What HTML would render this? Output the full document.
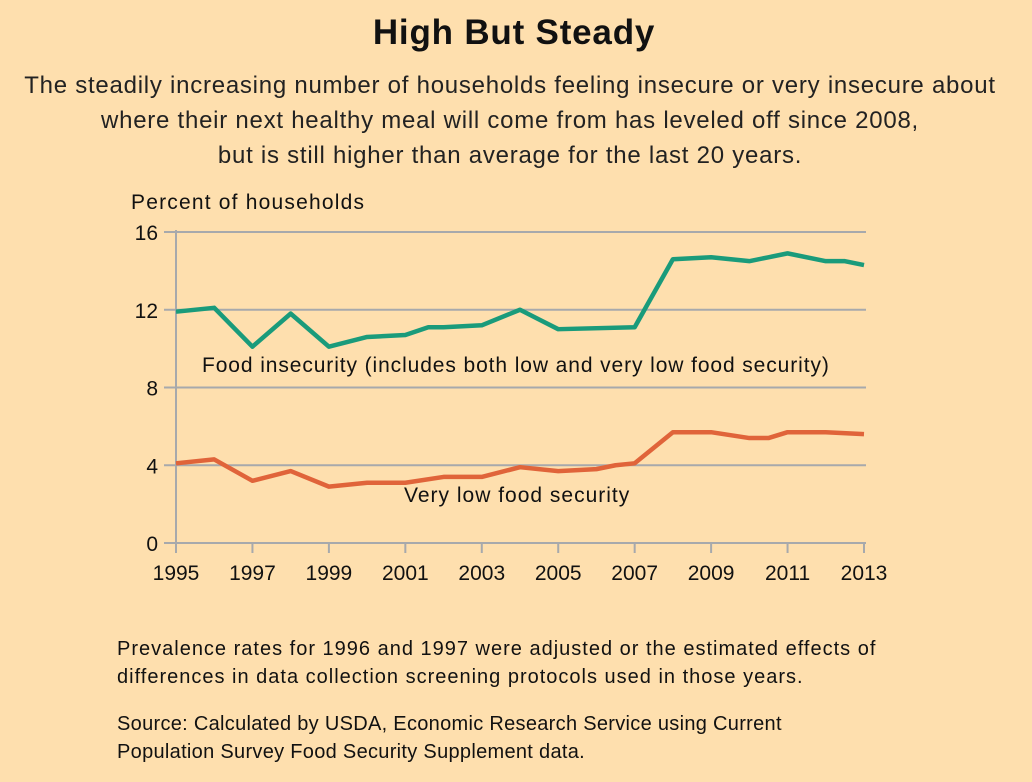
<!DOCTYPE html>
<html><head><meta charset="utf-8"><style>
html,body{margin:0;padding:0;background:#fedfae;}
body{width:1032px;height:782px;position:relative;overflow:hidden;font-family:"Liberation Sans",sans-serif;color:#111;}
.t{position:absolute;white-space:nowrap;}
</style></head><body>
<div class="t" style="left:0;width:1028px;text-align:center;top:13px;font-size:35px;font-weight:bold;letter-spacing:0.8px;">High But Steady</div>
<div class="t" style="left:0;width:1020px;text-align:center;top:68px;font-size:24px;line-height:35px;color:#222;letter-spacing:0.75px;">The steadily increasing number of households feeling insecure or very insecure about<br>where their next healthy meal will come from has leveled off since 2008,<br>but is still higher than average for the last 20 years.</div>
<svg id="chart" width="1032" height="782" style="position:absolute;left:0;top:0;"></svg>
<div class="t" style="left:117px;top:635px;font-size:20px;line-height:28px;letter-spacing:1px;">Prevalence rates for 1996 and 1997 were adjusted or the estimated effects of<br>differences in data collection screening protocols used in those years.</div>
<div class="t" style="left:117px;top:710px;font-size:20px;line-height:28px;letter-spacing:0.3px;">Source: Calculated by USDA, Economic Research Service using Current<br>Population Survey Food Security Supplement data.</div>
<script>
const yTicks=[0,4,8,12,16];
const xTicks=[1995,1997,1999,2001,2003,2005,2007,2009,2011,2013];
const insecYears=[1995,1996,1997,1998,1999,2000,2001,2001.6,2002,2003,2004,2004.5,2005,2007,2008,2009,2010,2010.5,2011,2012,2012.5,2013];
const insecVals=[11.9,12.1,10.1,11.8,10.1,10.6,10.7,11.1,11.1,11.2,12.0,11.5,11.0,11.1,14.6,14.7,14.5,14.7,14.9,14.5,14.5,14.3];
const vlowYears=[1995,1996,1997,1998,1999,2000,2001,2002,2003,2004,2005,2006,2006.5,2007,2008,2009,2010,2010.5,2011,2012,2013];
const vlowVals=[4.1,4.3,3.2,3.7,2.9,3.1,3.1,3.4,3.4,3.9,3.7,3.8,4.0,4.1,5.7,5.7,5.4,5.4,5.7,5.7,5.6];
const svg=document.getElementById('chart');const NS='http://www.w3.org/2000/svg';
const X=y=>176+(y-1995)*(864-176)/18;
const Y=v=>543-v*(543-232)/16;
function mk(t,a){const e=document.createElementNS(NS,t);for(const k in a)e.setAttribute(k,a[k]);svg.appendChild(e);return e;}
yTicks.forEach(v=>{
 const l=mk('line',{x1:164,x2:866,y1:Y(v),y2:Y(v),stroke:'#a7a9ac','stroke-width':2});
 
 
 const t=mk('text',{x:158,y:Y(v)+8,'text-anchor':'end','font-size':21,fill:'#111','font-family':'Liberation Sans, sans-serif'});t.textContent=v;
 
 
});
const ax=mk('line',{x1:176,x2:176,y1:230,y2:553,stroke:'#a7a9ac','stroke-width':2});


xTicks.forEach(y=>{
 const l=mk('line',{x1:X(y),x2:X(y),y1:543,y2:553,stroke:'#a7a9ac','stroke-width':2});
 
 
 const t=mk('text',{x:X(y),y:580,'text-anchor':'middle','font-size':21,fill:'#111','font-family':'Liberation Sans, sans-serif'});t.textContent=y;
 
 
});
const yt=mk('text',{x:131,y:209,'font-size':21,fill:'#111','letter-spacing':1.2,'font-family':'Liberation Sans, sans-serif'});yt.textContent='Percent of households';


function line(xs,vs,c,name){
 const p=mk('polyline',{points:xs.map((x,i)=>X(x)+','+Y(vs[i])).join(' '),fill:'none',stroke:c,'stroke-width':4.5,'stroke-linejoin':'round'});
 
 
}
line(insecYears,insecVals,'#1a9b7b','food-insecurity-line');
line(vlowYears,vlowVals,'#e0643a','very-low-food-security-line');
const l1=mk('text',{x:202,y:372,'font-size':21,fill:'#111','letter-spacing':0.9,'font-family':'Liberation Sans, sans-serif'});l1.textContent='Food insecurity (includes both low and very low food security)';


const l2=mk('text',{x:404,y:502,'font-size':21,fill:'#111','letter-spacing':1,'font-family':'Liberation Sans, sans-serif'});l2.textContent='Very low food security';


</script>
</body></html>
